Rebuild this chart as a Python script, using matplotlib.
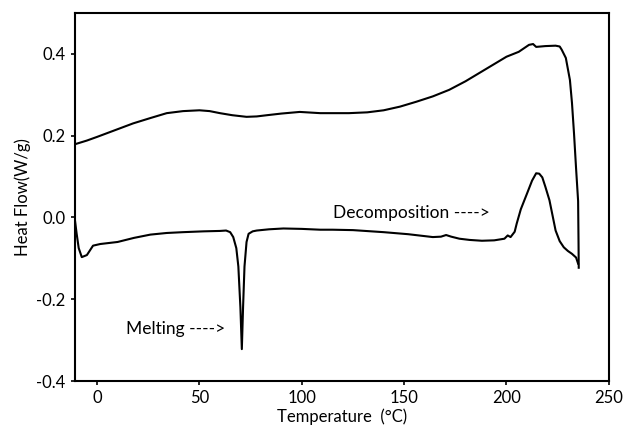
import numpy as np
import matplotlib
matplotlib.use("Agg")
import matplotlib.pyplot as plt

plt.rcParams['font.family'] = ['Lato', 'DejaVu Sans']
plt.rcParams['axes.unicode_minus'] = False

# upper (baseline) trace
upper_t = [-10.2, -5, 0, 8, 17.6, 26, 34, 42, 50, 55, 60, 66, 73, 78, 83, 90, 99, 109,
           123, 132, 140, 148, 156, 164, 172, 180, 188, 194, 200, 206, 211, 213, 214.5,
           219, 224, 226, 227, 229, 231, 232, 233, 234, 235, 235.2, 235.3]
upper_hf = [0.180, 0.188, 0.197, 0.212, 0.230, 0.243, 0.255, 0.260, 0.262, 0.260, 0.255,
            0.250, 0.246, 0.247, 0.250, 0.254, 0.258, 0.255, 0.255, 0.257, 0.262, 0.271,
            0.283, 0.296, 0.312, 0.333, 0.357, 0.375, 0.393, 0.405, 0.422, 0.424, 0.417,
            0.419, 0.420, 0.418, 0.410, 0.390, 0.336, 0.280, 0.205, 0.120, 0.040, -0.060,
            -0.123]

# lower trace with melting and decomposition peaks
lower_t = [-11, -10, -9, -7.5, -5, -2, 1.5, 10, 18, 26, 34, 42, 52, 60, 63, 65, 66.5,
           68, 69, 70, 70.7, 71.3, 72, 73, 74, 76, 78, 84, 91, 100, 109, 115, 125, 140,
           152, 164, 168, 170.5, 173, 177, 182, 188, 194, 199, 200.6, 202, 204, 205,
           207, 210, 212.5, 214.5, 216, 217.5, 219, 221, 222.5, 224, 226, 228, 230,
           232, 234, 235]
lower_hf = [0.000, -0.040, -0.075, -0.097, -0.092, -0.069, -0.065, -0.060, -0.050,
            -0.042, -0.038, -0.036, -0.034, -0.033, -0.032, -0.036, -0.048, -0.075,
            -0.120, -0.220, -0.322, -0.220, -0.120, -0.060, -0.040, -0.034, -0.032,
            -0.029, -0.027, -0.028, -0.030, -0.030, -0.031, -0.036, -0.041, -0.048,
            -0.047, -0.043, -0.047, -0.052, -0.055, -0.057, -0.056, -0.052, -0.044,
            -0.048, -0.035, -0.015, 0.020, 0.058, 0.090, 0.108, 0.107, 0.098, 0.075,
            0.042, 0.005, -0.032, -0.058, -0.073, -0.082, -0.089, -0.098, -0.113]

fig = plt.figure(figsize=(6.27, 4.32), dpi=100)
ax = fig.add_axes([0.119, 0.118, 0.852, 0.852])

ax.plot(upper_t, upper_hf, color="black", linewidth=1.5)
ax.plot(lower_t, lower_hf, color="black", linewidth=1.5)

ax.text(38.5, -0.272, "Melting ---->", fontsize=12.5, ha="center", va="center")
ax.text(153.5, 0.012, "Decomposition ---->", fontsize=12.5, ha="center", va="center")

ax.set_xlim(-11, 250)
ax.set_ylim(-0.4, 0.5)
ax.set_xticks([0, 50, 100, 150, 200, 250])
ax.set_yticks([-0.4, -0.2, 0.0, 0.2, 0.4])
ax.set_yticklabels(["-0.4", "-0.2", "0.0", "0.2", "0.4"])
ax.tick_params(direction="out", length=3, width=1.2, labelsize=12)
for s in ax.spines.values():
    s.set_linewidth(1.5)

ax.set_xlabel("Temperature  (°C)", fontsize=12, labelpad=2)
ax.set_ylabel("Heat Flow(W/g)", fontsize=12, labelpad=4)

fig.savefig("out.png", dpi=100)
